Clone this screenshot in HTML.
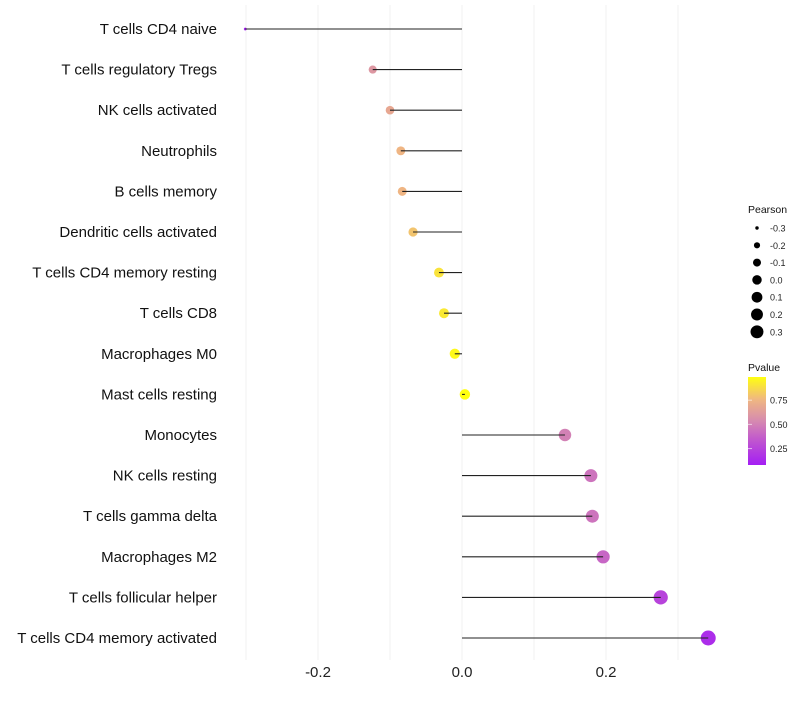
<!DOCTYPE html>
<html><head><meta charset="utf-8"><style>
body{margin:0;background:#fff;}
svg text{font-family:"Liberation Sans",sans-serif;}
</style></head><body>
<svg id="chart" width="800" height="700" xmlns="http://www.w3.org/2000/svg">
<defs><linearGradient id="pg" x1="0" y1="1" x2="0" y2="0">
<stop offset="0" stop-color="#A41EF4"/><stop offset="0.3" stop-color="#C25ACC"/><stop offset="0.5" stop-color="#D68AB0"/><stop offset="0.75" stop-color="#F0B880"/><stop offset="1" stop-color="#FFFF10"/>
</linearGradient></defs>
<g id="grid"></g><g id="marks"></g><g id="labels"></g><g id="xaxis"></g><g id="legend"></g>
</svg>
<script>
const categories=["T cells CD4 naive","T cells regulatory  Tregs","NK cells activated","Neutrophils","B cells memory","Dendritic cells activated","T cells CD4 memory resting","T cells CD8","Macrophages M0","Mast cells resting","Monocytes","NK cells resting","T cells gamma delta","Macrophages M2","T cells follicular helper","T cells CD4 memory activated"];
const pearson=[-0.301,-0.124,-0.100,-0.085,-0.083,-0.068,-0.032,-0.025,-0.010,0.004,0.143,0.179,0.181,0.196,0.276,0.342];
const pvalue=[0.08,0.6,0.68,0.75,0.75,0.8,0.9,0.92,0.97,0.99,0.5,0.45,0.45,0.4,0.25,0.15];
const xTicks=[-0.2,0.0,0.2];
const xTickLabels=["-0.2","0.0","0.2"];
const sizeBreaks=[-0.3,-0.2,-0.1,0.0,0.1,0.2,0.3];
const sizeLabels=["-0.3","-0.2","-0.1","0.0","0.1","0.2","0.3"];
const pTicks=[0.25,0.5,0.75];
const pTickLabels=["0.25","0.50","0.75"];

const NS="http://www.w3.org/2000/svg";
const x=v=>462+v*720;
const y=i=>29+i*40.6;
const r=v=>Math.sqrt(Math.max(2,27+85*v));
const rl=v=>Math.sqrt(Math.max(2.9,22.5+65*v));
const stops=[[0,[164,30,244]],[0.3,[194,90,204]],[0.5,[214,138,176]],[0.75,[240,184,128]],[1,[255,255,16]]];
function col(p){const t=Math.min(1,Math.max(0,(p-0.08)/(0.99-0.08)));for(let k=1;k<stops.length;k++){if(t<=stops[k][0]){const a=stops[k-1],b=stops[k],f=(t-a[0])/(b[0]-a[0]);return "rgb("+a[1].map((c,j)=>Math.round(c+(b[1][j]-c)*f)).join(",")+")";}}return "rgb(255,255,16)";}
function mk(tag,attrs,parent,txt){const e=document.createElementNS(NS,tag);for(const k in attrs)e.setAttribute(k,attrs[k]);if(txt!==undefined)e.textContent=txt;document.getElementById(parent).appendChild(e);return e;}

for(let v=-0.3;v<=0.35;v+=0.1){const g=mk("line",{x1:x(v),x2:x(v),y1:5,y2:660,stroke:"#f2f2f2","stroke-width":1},"grid");

}

categories.forEach((c,i)=>{
 const pt=mk("circle",{cx:x(pearson[i]),cy:y(i),r:r(pearson[i]),fill:col(pvalue[i])},"marks");
 
 
 const ln=mk("line",{x1:x(0),x2:x(pearson[i]),y1:y(i),y2:y(i),stroke:"#222","stroke-width":1.1},"marks");
 
 
 const t=mk("text",{x:217,y:y(i)+5,"text-anchor":"end","font-size":15,fill:"#111"},"labels",c);
 
 
});
xTicks.forEach((v,i)=>{const t=mk("text",{x:x(v),y:677,"text-anchor":"middle","font-size":15,fill:"#222"},"xaxis",xTickLabels[i]);

});

const lt=mk("text",{x:748,y:213,"font-size":10.5,fill:"#111"},"legend","Pearson");


sizeBreaks.forEach((v,i)=>{const cy=228+i*17.3;
 const c=mk("circle",{cx:757,cy:cy,r:rl(v),fill:"#000"},"legend");
 
 
 const t=mk("text",{x:770,y:cy+3.5,"font-size":9,fill:"#222"},"legend",sizeLabels[i]);
 
 });
const pt2=mk("text",{x:748,y:371,"font-size":10.5,fill:"#111"},"legend","Pvalue");


const bar=mk("rect",{x:748,y:377,width:18,height:88,fill:"url(#pg)"},"legend");


const py=p=>465-(p-0.08)/(0.99-0.08)*88;
pTicks.forEach((p,i)=>{
 const tk=mk("line",{x1:748,x2:752,y1:py(p),y2:py(p),stroke:"#fff","stroke-opacity":0.6},"legend");
 
 
 const t=mk("text",{x:770,y:py(p)+3.5,"font-size":9,fill:"#222"},"legend",pTickLabels[i]);
 
 });
</script>
</body></html>
